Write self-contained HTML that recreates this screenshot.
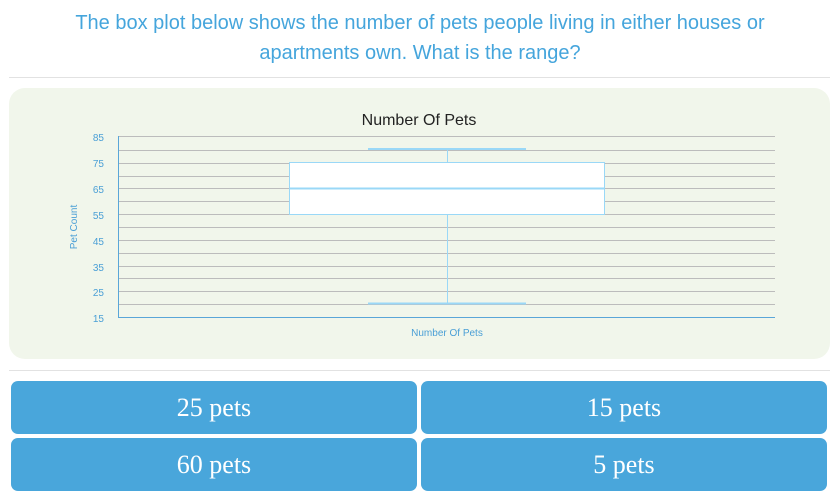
<!DOCTYPE html>
<html><head><style>
html,body{margin:0;padding:0;background:#fff;width:840px;height:501px;overflow:hidden}
</style></head><body>
<svg width="840" height="501" xmlns="http://www.w3.org/2000/svg">
<text x="420" y="29" text-anchor="middle" font-family="Liberation Sans, DejaVu Sans, sans-serif" font-size="20" fill="#45a5dc">The box plot below shows the number of pets people living in either houses or</text>
<text x="420" y="59" text-anchor="middle" font-family="Liberation Sans, DejaVu Sans, sans-serif" font-size="20" fill="#45a5dc">apartments own. What is the range?</text>
<rect x="9" y="77" width="821" height="1" fill="#e2e2e2"/>
<rect x="9" y="88" width="821" height="271" rx="16" fill="#f1f6eb"/>
<text x="419" y="125" text-anchor="middle" font-family="Liberation Sans, DejaVu Sans, sans-serif" font-size="16" fill="#222">Number Of Pets</text>
<g stroke="#bcbcbc" stroke-width="1">
<line x1="118" x2="775" y1="136.5" y2="136.5"/><line x1="118" x2="775" y1="150.5" y2="150.5"/>
<line x1="118" x2="775" y1="163.5" y2="163.5"/><line x1="118" x2="775" y1="176.5" y2="176.5"/>
<line x1="118" x2="775" y1="188.5" y2="188.5"/><line x1="118" x2="775" y1="201.5" y2="201.5"/>
<line x1="118" x2="775" y1="214.5" y2="214.5"/><line x1="118" x2="775" y1="227.5" y2="227.5"/>
<line x1="118" x2="775" y1="240.5" y2="240.5"/><line x1="118" x2="775" y1="253.5" y2="253.5"/>
<line x1="118" x2="775" y1="266.5" y2="266.5"/><line x1="118" x2="775" y1="278.5" y2="278.5"/>
<line x1="118" x2="775" y1="291.5" y2="291.5"/><line x1="118" x2="775" y1="304.5" y2="304.5"/>
</g>
<line x1="118" x2="775" y1="317.5" y2="317.5" stroke="#5aa6d8" stroke-width="1"/>
<line x1="118.5" x2="118.5" y1="136" y2="318" stroke="#5aa6d8" stroke-width="1"/>
<g stroke="#9ad8f7" fill="none">
<line x1="447.5" x2="447.5" y1="149" y2="303"/>
<line x1="368" x2="526" y1="149" y2="149" stroke-width="2"/>
<line x1="368" x2="526" y1="303.5" y2="303.5" stroke-width="2"/>
<rect x="289.5" y="162.5" width="315" height="52" fill="#fff"/>
<line x1="289" x2="605" y1="188.5" y2="188.5" stroke-width="2"/>
</g>
<g font-family="Liberation Sans, DejaVu Sans, sans-serif" font-size="10" fill="#4a9fd6" text-anchor="end">
<text x="104" y="141">85</text><text x="104" y="167">75</text><text x="104" y="193">65</text>
<text x="104" y="219">55</text><text x="104" y="245">45</text><text x="104" y="271">35</text>
<text x="104" y="296">25</text><text x="104" y="322">15</text>
</g>
<text transform="translate(77,227) rotate(-90)" text-anchor="middle" font-family="Liberation Sans, DejaVu Sans, sans-serif" font-size="10" fill="#4a9fd6">Pet Count</text>
<text x="447" y="336" text-anchor="middle" font-family="Liberation Sans, DejaVu Sans, sans-serif" font-size="10" fill="#4a9fd6">Number Of Pets</text>
<rect x="9" y="370" width="821" height="1" fill="#e2e2e2"/>
<g fill="#49a6db">
<rect x="11" y="381" width="406" height="53" rx="7"/><rect x="421" y="381" width="406" height="53" rx="7"/>
<rect x="11" y="438" width="406" height="53" rx="7"/><rect x="421" y="438" width="406" height="53" rx="7"/>
</g>
<g font-family="Liberation Serif, DejaVu Serif, serif" font-size="26" fill="#fff" text-anchor="middle">
<text x="214" y="416">25 pets</text><text x="624" y="416">15 pets</text>
<text x="214" y="473">60 pets</text><text x="624" y="473">5 pets</text>
</g>
</svg>
</body></html>
